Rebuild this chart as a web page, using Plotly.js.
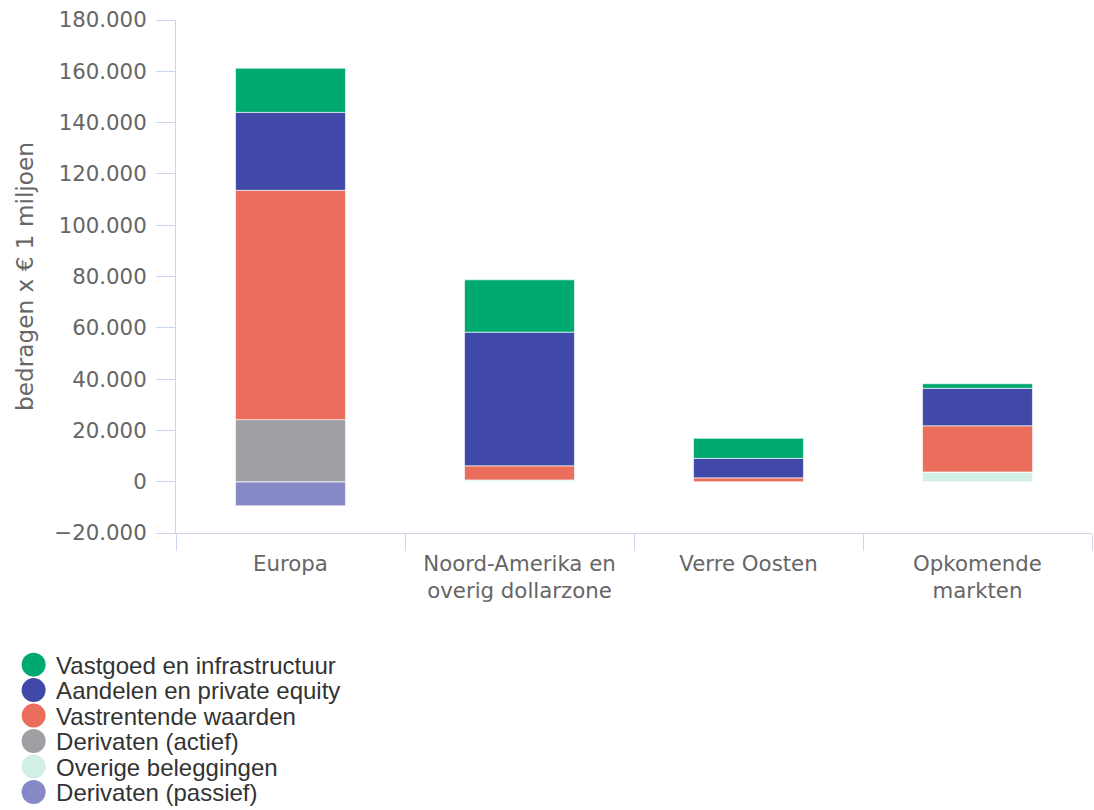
<!DOCTYPE html>
<html>
<head>
<meta charset="utf-8">
<script src="https://cdn.plot.ly/plotly-3.0.1.min.js"></script>
<style>html,body{margin:0;padding:0;background:#fff;}#chart{width:1094px;height:810px;}</style>
</head>
<body>
<div id="chart"></div>
<script>
const categories = ["Europa", "Noord-Amerika en<br>overig dollarzone", "Verre Oosten", "Opkomende<br>markten"];
const vastgoed = [17200, 20400, 7800, 1800];
const aandelen = [30400, 52100, 7600, 14600];
const vastrentende = [89400, 5500, 1500, 18000];
const derivatenActief = [24200, 0, 0, 0];
const overige = [0, 700, 0, 3800];
const derivatenPassief = [-9400, 0, 0, 0];

const seriesNames = ["Derivaten (passief)", "Overige beleggingen", "Derivaten (actief)", "Vastrentende waarden", "Aandelen en private equity", "Vastgoed en infrastructuur"];
const seriesValues = [derivatenPassief, overige, derivatenActief, vastrentende, aandelen, vastgoed];
const seriesColors = ["#8788c6", "#d1efe4", "#9ea0a3", "#eb6e5c", "#4149a8", "#00a872"];

const traces = [];
seriesNames.forEach((n, i) => {
  traces.push({
    type: "bar", name: n, x: categories, y: seriesValues[i],
    marker: {color: seriesColors[i], line: {color: "rgba(255,255,255,0.6)", width: 1}},
    showlegend: false, hoverinfo: "y+name"
  });
});
seriesNames.forEach((n, i) => {
  traces.push({
    type: "scatter", mode: "markers", name: n, x: [null], y: [null],
    marker: {color: seriesColors[i], size: 16, symbol: "circle"},
    showlegend: true
  });
});

const axisFont = {family: "DejaVu Sans, sans-serif", size: 21.3, color: "#666666"};
const LEGEND_FONT = 24;
const layout = {
  width: 1094, height: 810,
  margin: {l: 176, r: 2, t: 20, b: 277, autoexpand: false},
  paper_bgcolor: "#fff", plot_bgcolor: "#fff",
  barmode: "relative", bargap: 0.52,
  separators: ",.",
  showlegend: true,
  legend: {
    x: -0.180, xanchor: "left", y: -0.222, yanchor: "top",
    traceorder: "reversed",
    font: {family: "Liberation Sans, Arial, sans-serif", size: 17.3, color: "#333333"},
    tracegroupgap: 0, itemwidth: 35, bgcolor: "rgba(0,0,0,0)"
  },
  xaxis: {
    type: "category",
    showline: true, linecolor: "#ccd6eb", linewidth: 1,
    ticks: "outside", tickson: "boundaries", ticklen: 17, tickcolor: "#ccd6eb",
    ticklabelstandoff: 11,
    tickfont: axisFont, showgrid: false, zeroline: false, fixedrange: true
  },
  yaxis: {
    range: [-20000, 180000], dtick: 20000, tickformat: ",d",
    showline: true, linecolor: "#ccd6eb", linewidth: 1,
    ticks: "outside", ticklen: 19, tickcolor: "#ccd6eb",
    ticklabelstandoff: 5,
    tickfont: axisFont, showgrid: false, zeroline: false,
    title: {text: "bedragen x € 1 miljoen", font: {family: "DejaVu Sans, sans-serif", size: 23.2, color: "#666666"}, standoff: 14},
    fixedrange: true
  }
};
Plotly.newPlot("chart", traces, layout, {displayModeBar: false, staticPlot: true}).then(gd => {
  const baseSize = layout.legend.font.size;
  gd.querySelectorAll(".legend [clip-path]").forEach(e => e.removeAttribute("clip-path"));
  gd.querySelectorAll(".legend .scrollbar").forEach(e => e.style.display = "none");
  gd.querySelectorAll(".legend .traces text.legendtext").forEach(t => {
    t.style.fontSize = LEGEND_FONT + "px";
    const y = parseFloat(t.getAttribute("y") || "0");
    t.setAttribute("y", (y * LEGEND_FONT / baseSize).toFixed(2));
  });
  gd.querySelectorAll(".legend .traces .legendpoints path").forEach(p => {
    const tr = p.getAttribute("transform") || "";
    p.setAttribute("transform", tr + " scale(1.5)");
  });
});
</script>
</body>
</html>
